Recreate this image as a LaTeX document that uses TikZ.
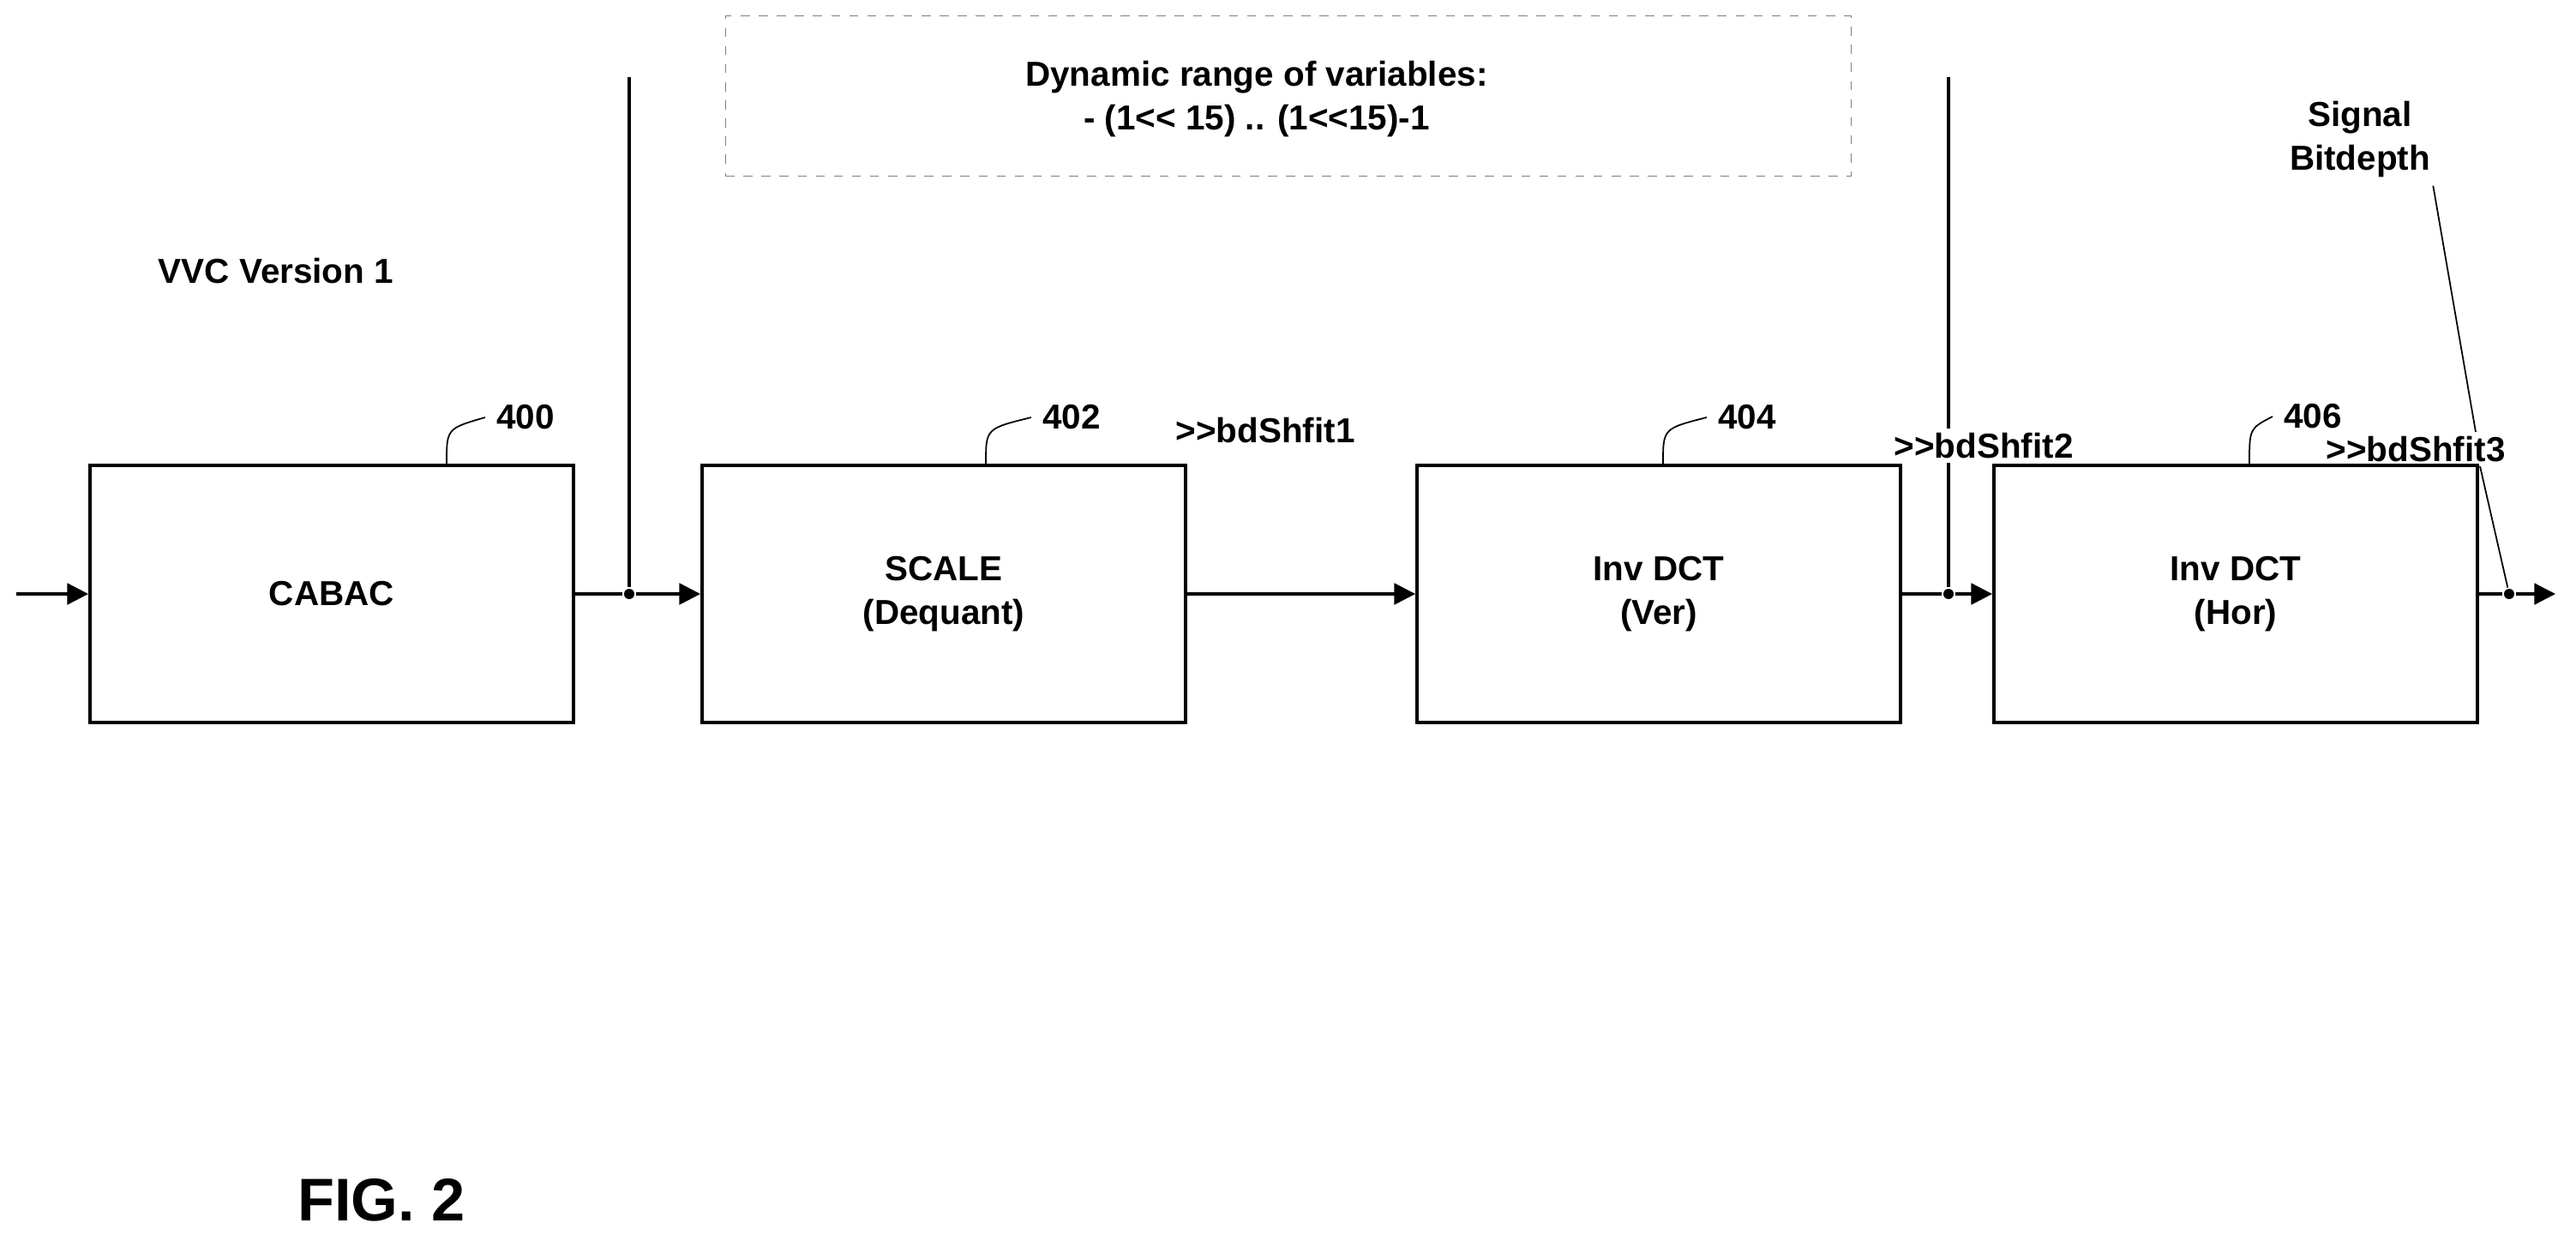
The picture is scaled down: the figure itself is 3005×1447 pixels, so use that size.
\documentclass[tikz,border=0pt]{standalone}
\usepackage{fontspec}
\setmainfont{Liberation Sans}
\usetikzlibrary{arrows.meta}

\begin{document}
\begin{tikzpicture}[x=0.01cm, y=-0.01cm, line width=0.9pt,
  font=\bfseries\fontsize{11.5}{14.5}\selectfont,
  block/.style={draw, rectangle, minimum width=5.64cm, minimum height=3cm, align=center, line width=1pt},
  flow/.style={-{Triangle[length=7pt, width=7pt]}},
  joint/.style={circle, fill, inner sep=0pt, minimum size=0.12cm}]
  \useasboundingbox (0,0) rectangle (3005,1447);

  % Blocks
  \node[block] (cabac) at (387,693) {CABAC};
  \node[block] (scale) at (1101,693) {SCALE\\(Dequant)};
  \node[block] (ver) at (1935,693) {Inv DCT\\(Ver)};
  \node[block] (hor) at (2608,693) {Inv DCT\\(Hor)};

  % Reference numbers
  \node (n400) at (613,487) {400};
  \node (n402) at (1250,487) {402};
  \node (n404) at (2038,487) {404};
  \node (n406) at (2698,486) {406};
  \draw[line width=0.5pt] (cabac.north -| 521,0) .. controls (521,500) .. (n400.west);
  \draw[line width=0.5pt] (scale.north -| 1150,0) .. controls (1150,500) .. (n402.west);
  \draw[line width=0.5pt] (ver.north -| 1940,0) .. controls (1940,500) .. (n404.west);
  \draw[line width=0.5pt] (hor.north -| 2624,0) .. controls (2624,500) .. (n406.west);

  % Texts
  \node[draw, dashed, line width=0.3pt, gray, minimum width=13.13cm, minimum height=1.86cm] (range) at (1503,112) {};
  \node[align=center] (rangetxt) at (1466,116) {Dynamic range of variables:\\- (1<{}< 15) .. (1<{}<15)-1};
  \node (vvc) at (322,316) {VVC Version 1};
  \node (shift1) at (1476,502) {>{}>bdShfit1};
  \node[inner sep=1pt] (shift2) at (2314,520) {>{}>bdShfit2};
  \node[inner sep=1pt] (shift3) at (2818,524) {>{}>bdShfit3};
  \node[align=center] (signal) at (2753,163) {Signal\\Bitdepth};
  \node[font=\bfseries\fontsize{20}{24}\selectfont] (fig) at (445,1400) {FIG. 2};

  % Junctions
  \coordinate (in) at (19,693);
  \coordinate (top1) at (734,90);
  \coordinate (top2) at (2273,90);
  \coordinate (out) at (2981,693);
  \node[joint] (j1) at (734,693) {};
  \node[joint] (j2) at (2273,693) {};
  \node[joint] (j3) at (2927,693) {};

  % Signal path
  \draw[flow] (in) -- (cabac);
  \draw (cabac) -- (j1);
  \draw[flow] (j1) -- (scale);
  \draw[flow] (scale) -- (ver);
  \draw (ver) -- (j2);
  \draw[flow] (j2) -- (hor);
  \draw (hor) -- (j3);
  \draw[flow] (j3) -- (out);
  \draw (top1) -- (j1);
  \draw (top2) -- (shift2.north -| top2);
  \draw (shift2.south -| top2) -- (j2);
  \draw[line width=0.5pt] (signal.south east) ++(-10,-4) -- (shift3.north -| 2888,0);
  \draw[line width=0.5pt] (shift3.south -| 2893,0) -- (j3);
\end{tikzpicture}
\end{document}
